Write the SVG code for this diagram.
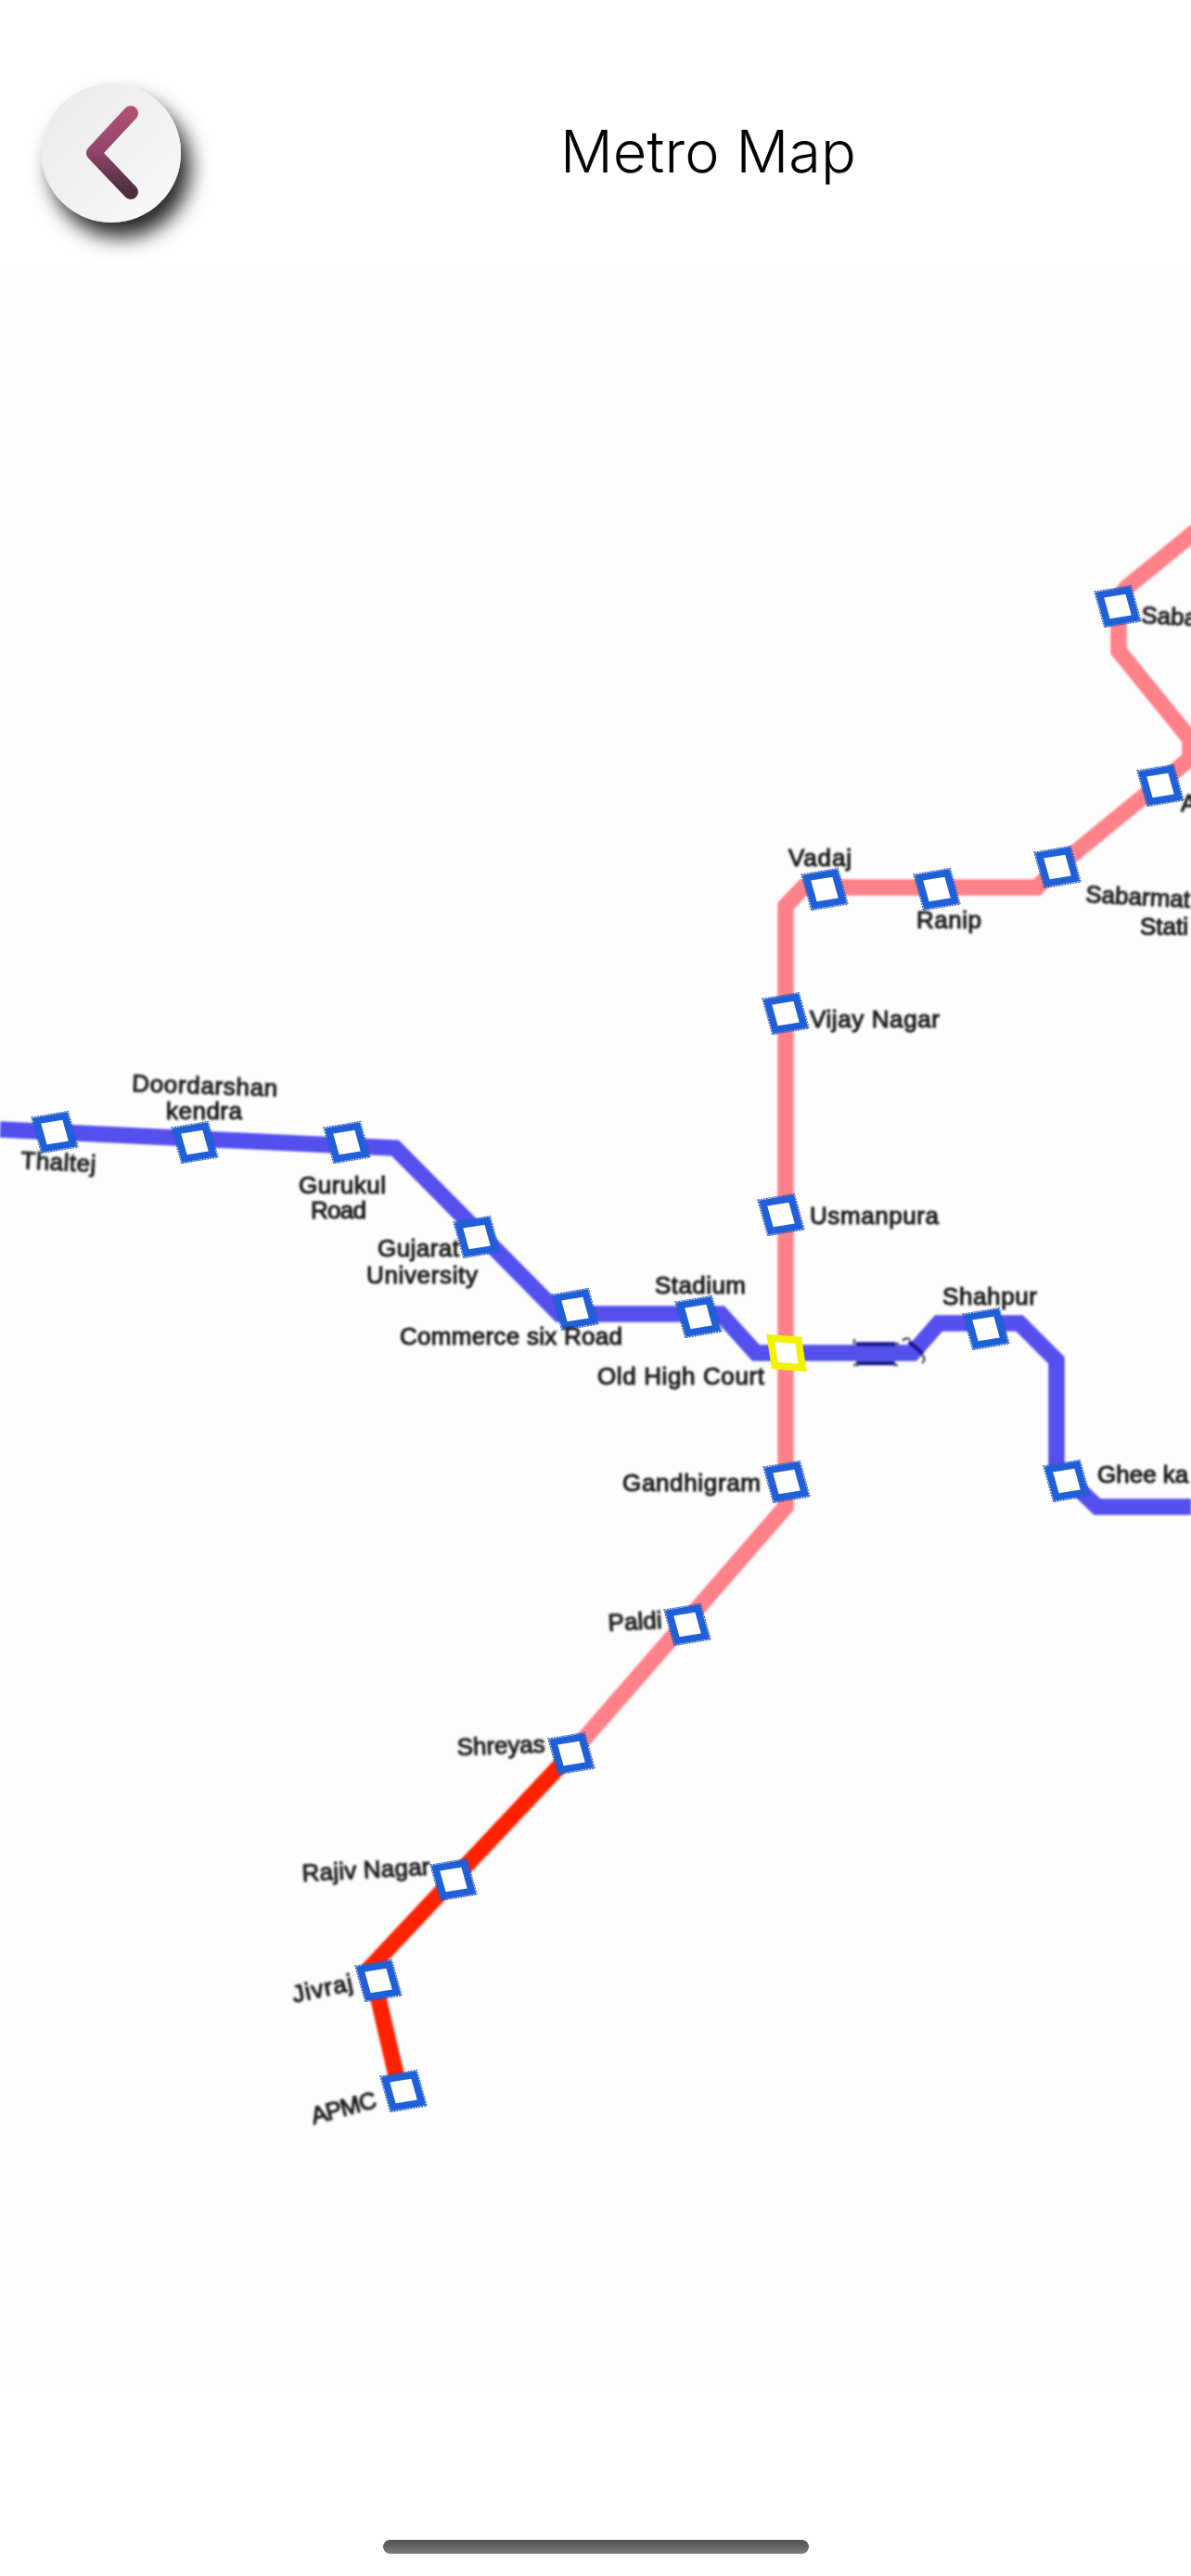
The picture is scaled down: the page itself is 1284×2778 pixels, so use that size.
<svg xmlns="http://www.w3.org/2000/svg" width="1284" height="2778" viewBox="0 0 1284 2778">
<style>
.ln{fill:none;stroke-width:17.5;stroke-linejoin:miter}
.pink{stroke:#ff8189}
.blue{stroke:#5550ee}
.red{stroke:#ff2100}
.lb{font-family:"Liberation Sans",Arial,sans-serif;font-size:26px;fill:#1e1e1e;stroke:#1e1e1e;stroke-width:1.100px;filter:url(#soft)}
.mk{fill:none;stroke:#17178c;stroke-width:4.500}
.tk{fill:none;stroke:#555;stroke-width:2.500}
</style>
<defs>
<linearGradient id="btn" x1="0" y1="0" x2="1" y2="1"><stop offset="0" stop-color="#e9e9e9"/><stop offset="1" stop-color="#fafafa"/></linearGradient>
<linearGradient id="chev" x1="0" y1="0" x2="0" y2="1"><stop offset="0" stop-color="#ad5072"/><stop offset=".45" stop-color="#96456a"/><stop offset="1" stop-color="#4a2f3c"/></linearGradient>
<linearGradient id="bar" x1="0" y1="0" x2="0" y2="1"><stop offset="0" stop-color="#505050"/><stop offset="1" stop-color="#7c7c7c"/></linearGradient>
<filter id="sh" x="-40%" y="-40%" width="200%" height="200%"><feDropShadow dx="10" dy="16" stdDeviation="11" flood-color="#000" flood-opacity=".85"/></filter>
<filter id="soft" x="-10%" y="-30%" width="120%" height="160%"><feGaussianBlur stdDeviation=".8"/></filter>
<filter id="softline" filterUnits="userSpaceOnUse" x="0" y="500" width="1284" height="1900"><feGaussianBlur stdDeviation=".8"/></filter>
<g id="st">
<rect x="-20" y="-20" width="40" height="40" fill="none" stroke="#2a55b5" stroke-width="1.200" stroke-dasharray="2 1"/>
<rect x="-15.500" y="-15.500" width="31" height="31" fill="#fff" stroke="#1f5fd8" stroke-width="7.500"/>
</g>
</defs>
<rect width="1284" height="2778" fill="#fff"/>
<rect y="285" width="1284" height="2292" fill="#fdfdfd"/>
<g id="header">
<g id="back">
<circle cx="120" cy="165" r="75" fill="url(#btn)" filter="url(#sh)"/>
<path d="M141 122 L101 165 L141 207" fill="none" stroke="url(#chev)" stroke-width="16" stroke-linecap="round" stroke-linejoin="round"/>
</g>
<text x="604" y="186" font-family="Inter,Lato,sans-serif" font-weight="300" font-size="63" textLength="319" fill="#000">Metro Map</text>
</g>
<g id="map">
<g id="connectors" filter="url(#softline)">
<path class="ln pink" d="M1204 648 L1214 634 L1290 572"/>
<path class="ln pink" d="M1206 654 V702 L1283 797 V818 L1140 935 L1118 957 H866 L847 977 V1625 L616 1891"/>
<path class="ln blue" d="M0 1218 L426 1238 L603 1417 H777 L815 1459 H984 L1012 1427 H1099 L1139 1467 V1583 L1183 1625 H1284"/>
<path class="ln red" d="M616 1891 L400 2121 L431 2255"/>
<g id="track-marks">
<path class="mk" d="M923 1449.500 H965 M923 1470 H965 M980 1447 L995 1460"/>
<path class="tk" d="M921 1444 V1450 M965 1449 H969 M920 1472 H926 M963 1472 H968 M973 1446 Q977 1441 981 1445 M994 1461 Q999 1466 994 1470"/>
</g>
</g>
<g id="n-thaltej"><use href="#st" transform="translate(59 1221) matrix(.986 -.165 .27 .963 0 0)"/><text class="lb" x="22" y="1260" textLength="81" transform="rotate(3 22 1260)">Thaltej</text></g>
<g id="n-doordarshan"><use href="#st" transform="translate(210 1232) matrix(.986 -.165 .27 .963 0 0)"/><text class="lb" x="142" y="1177" textLength="157" transform="rotate(2 142 1177)">Doordarshan</text><text class="lb" x="179" y="1207" textLength="82">kendra</text></g>
<g id="n-gurukul"><use href="#st" transform="translate(374 1232) matrix(.986 -.165 .27 .963 0 0)"/><text class="lb" x="322" y="1287" textLength="94">Gurukul</text><text class="lb" x="335" y="1314" textLength="60">Road</text></g>
<g id="n-gujarat"><use href="#st" transform="translate(514 1334) matrix(.986 -.165 .27 .963 0 0)"/><text class="lb" x="407" y="1355" textLength="88">Gujarat</text><text class="lb" x="395" y="1384" textLength="120">University</text></g>
<g id="n-commerce"><use href="#st" transform="translate(620 1412) matrix(.986 -.165 .27 .963 0 0)"/><text class="lb" x="431" y="1450" textLength="240">Commerce six Road</text></g>
<g id="n-stadium"><use href="#st" transform="translate(753 1420) matrix(.986 -.165 .27 .963 0 0)"/><text class="lb" x="706" y="1395" textLength="98">Stadium</text></g>
<g id="n-oldhighcourt"><g transform="translate(848 1459) matrix(.997 .075 .15 .989 0 0)"><rect x="-15" y="-15" width="30" height="30" fill="#fff" stroke="#f3f300" stroke-width="8"/></g><text class="lb" x="644" y="1493" textLength="180">Old High Court</text></g>
<g id="n-shahpur"><use href="#st" transform="translate(1063 1433) matrix(.986 -.165 .27 .963 0 0)"/><text class="lb" x="1016" y="1407" textLength="102">Shahpur</text></g>
<g id="n-gheeka"><use href="#st" transform="translate(1150 1597) matrix(.986 -.165 .27 .963 0 0)"/><text class="lb" x="1183" y="1599">Ghee ka</text></g>
<g id="n-usmanpura"><use href="#st" transform="translate(842 1310) matrix(.986 -.165 .27 .963 0 0)"/><text class="lb" x="873" y="1320" textLength="139">Usmanpura</text></g>
<g id="n-vijaynagar"><use href="#st" transform="translate(847 1093) matrix(.986 -.165 .27 .963 0 0)"/><text class="lb" x="873" y="1108" textLength="140">Vijay Nagar</text></g>
<g id="n-vadaj"><use href="#st" transform="translate(889 959) matrix(.986 -.165 .27 .963 0 0)"/><text class="lb" x="850" y="934" textLength="68">Vadaj</text></g>
<g id="n-ranip"><use href="#st" transform="translate(1010 959) matrix(.986 -.165 .27 .963 0 0)"/><text class="lb" x="988" y="1001" textLength="70">Ranip</text></g>
<g id="n-sabarmati"><use href="#st" transform="translate(1140 935) matrix(.986 -.165 .27 .963 0 0)"/><text class="lb" x="1170" y="973" transform="rotate(3 1170 973)">Sabarmat</text><text class="lb" x="1229" y="1008">Stati</text></g>
<g id="n-a"><use href="#st" transform="translate(1251 847) matrix(.986 -.165 .27 .963 0 0)"/><text class="lb" x="1273" y="875">A</text></g>
<g id="n-saba"><use href="#st" transform="translate(1205 654) matrix(.986 -.165 .27 .963 0 0)"/><text class="lb" x="1230" y="672" transform="rotate(3 1230 672)">Saba</text></g>
<g id="n-gandhigram"><use href="#st" transform="translate(848 1598) matrix(.986 -.165 .27 .963 0 0)"/><text class="lb" x="671" y="1608" textLength="149">Gandhigram</text></g>
<g id="n-paldi"><use href="#st" transform="translate(741 1752) matrix(.986 -.165 .27 .963 0 0)"/><text class="lb" x="656" y="1759" textLength="58" transform="rotate(-3 656 1759)">Paldi</text></g>
<g id="n-shreyas"><use href="#st" transform="translate(616 1891) matrix(.986 -.165 .27 .963 0 0)"/><text class="lb" x="493" y="1893" textLength="95" transform="rotate(-2 493 1893)">Shreyas</text></g>
<g id="n-rajivnagar"><use href="#st" transform="translate(489 2027) matrix(.986 -.165 .27 .963 0 0)"/><text class="lb" x="326" y="2029" textLength="138" transform="rotate(-3 326 2029)">Rajiv Nagar</text></g>
<g id="n-jivraj"><use href="#st" transform="translate(408 2136) matrix(.986 -.165 .27 .963 0 0)"/><text class="lb" x="317" y="2160" textLength="66" transform="rotate(-12 317 2160)">Jivraj</text></g>
<g id="n-apmc"><use href="#st" transform="translate(435 2255) matrix(.986 -.165 .27 .963 0 0)"/><text class="lb" x="338" y="2291" textLength="72" transform="rotate(-15 338 2291)">APMC</text></g>
</g>
<rect id="home-indicator" x="413" y="2739" width="459" height="15" rx="7.500" fill="url(#bar)"/>
</svg>
